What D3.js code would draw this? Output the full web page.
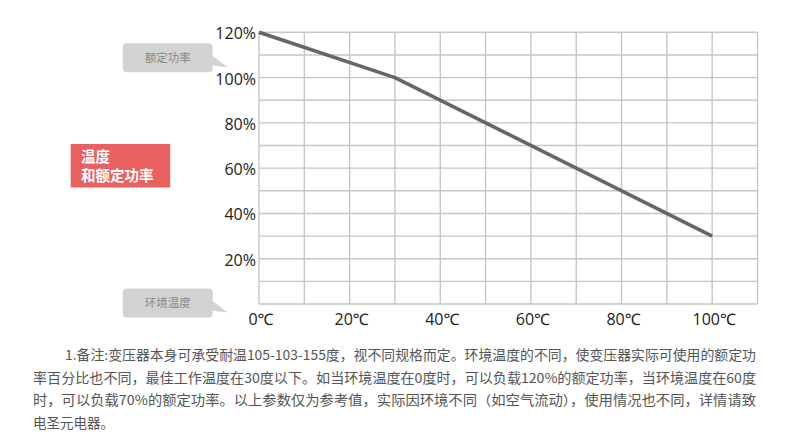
<!DOCTYPE html>
<html>
<head>
<meta charset="utf-8">
<script src="https://cdn.jsdelivr.net/npm/d3@7/dist/d3.min.js"></script>
<style>
  html, body { margin: 0; padding: 0; background: #fff; }
  svg { display: block; }
  .tick-label { font-family: "Open Sans", "Noto Sans", sans-serif; font-size: 16px; fill: #222; }
  .cjk { font-family: "Noto Sans CJK SC", sans-serif; }
</style>
</head>
<body>
<div id="chart"></div>
<script>
// data
const temps = [0, 30, 100];
const power = [120, 100, 30];
const xTickLabels = [0, 20, 40, 60, 80, 100];
const yTickLabels = [20, 40, 60, 80, 100, 120];
const gridX = d3.range(0, 111, 10);
const gridY = d3.range(0, 121, 10);
const noteLines = [
  "1.备注:变压器本身可承受耐温105-103-155度，视不同规格而定。环境温度的不同，使变压器实际可使用的额定功",
  "率百分比也不同，最佳工作温度在30度以下。如当环境温度在0度时，可以负载120%的额定功率，当环境温度在60度",
  "时，可以负载70%的额定功率。以上参数仅为参考值，实际因环境不同（如空气流动），使用情况也不同，详情请致",
  "电圣元电器。"
];

const canvas = { w: 790, h: 433 };

const svg = d3.select("#chart")
  .append("svg")
  .attr("width", canvas.w)
  .attr("height", canvas.h);

const x = d3.scaleLinear().domain([0, 110]).range([259, 757.5]);
const y = d3.scaleLinear().domain([0, 120]).range([304, 32.3]);

// grid
const grid = svg.append("g")
  .attr("stroke", "#c6c6c6")
  .attr("stroke-width", 1.4);

grid.selectAll("line.v")
  .data(gridX)
  .join("line")
  .attr("class", "v")
  .attr("x1", d => x(d)).attr("x2", d => x(d))
  .attr("y1", y(0)).attr("y2", y(120));

grid.selectAll("line.h")
  .data(gridY)
  .join("line")
  .attr("class", "h")
  .attr("x1", x(0)).attr("x2", x(110))
  .attr("y1", d => y(d)).attr("y2", d => y(d));

// tick labels
svg.append("g")
  .selectAll("text")
  .data(yTickLabels)
  .join("text")
  .attr("class", "tick-label")
  .attr("x", x(0) - 3)
  .attr("y", d => y(d) + 7)
  .attr("text-anchor", "end")
  .text(d => d + "%");

svg.append("g")
  .selectAll("text")
  .data(xTickLabels)
  .join("text")
  .attr("class", "tick-label")
  .attr("x", d => x(d) + 2)
  .attr("y", 325)
  .attr("text-anchor", "middle")
  .text(d => d + "℃");

// derating curve
const line = d3.line()
  .x(d => x(d[0]))
  .y(d => y(d[1]));

svg.append("path")
  .datum(d3.zip(temps, power))
  .attr("d", line)
  .attr("fill", "none")
  .attr("stroke", "#666")
  .attr("stroke-width", 3.6)
  .attr("stroke-linejoin", "round");

// callout bubbles
function bubble(bx, by, label) {
  const w = 90, h = 29, r = 4;
  const g = svg.append("g");
  g.append("rect")
    .attr("x", bx).attr("y", by)
    .attr("width", w).attr("height", h)
    .attr("rx", r)
    .attr("fill", "#d3d3d3");
  g.append("path")
    .attr("d", `M${bx + w - 1},${by + 12} L${bx + w + 15},${by + 24} L${bx + w - 1},${by + 22} Z`)
    .attr("fill", "#d3d3d3");
  g.append("text")
    .attr("class", "cjk")
    .attr("x", bx + w / 2)
    .attr("y", by + h / 2 + 4)
    .attr("text-anchor", "middle")
    .attr("font-size", 11.5)
    .attr("fill", "#888")
    .text(label);
}
bubble(122.7, 43.3, "额定功率");
bubble(122.7, 288.5, "环境温度");

// red title box
svg.append("rect")
  .attr("x", 70.7).attr("y", 144)
  .attr("width", 99.5).attr("height", 43.5)
  .attr("fill", "#e8605f");

svg.append("g")
  .selectAll("text")
  .data(["温度", "和额定功率"])
  .join("text")
  .attr("class", "cjk")
  .attr("x", 81)
  .attr("y", (d, i) => 162 + i * 19)
  .attr("font-size", 14.5)
  .attr("font-weight", "bold")
  .attr("fill", "#fff")
  .text(d => d);

// footnote
svg.append("g")
  .selectAll("text")
  .data(noteLines)
  .join("text")
  .attr("class", "cjk")
  .attr("x", (d, i) => i === 0 ? 65 : 33)
  .attr("y", (d, i) => 360 + i * 22.5)
  .attr("font-size", 13.5)
  .attr("fill", "#555")
  .each(function (d, i) {
    if (i < 3) {
      const left = i === 0 ? 65 : 33;
      d3.select(this)
        .attr("textLength", 756 - left)
        .attr("lengthAdjust", "spacingAndGlyphs");
    }
  })
  .text(d => d);
</script>
</body>
</html>
